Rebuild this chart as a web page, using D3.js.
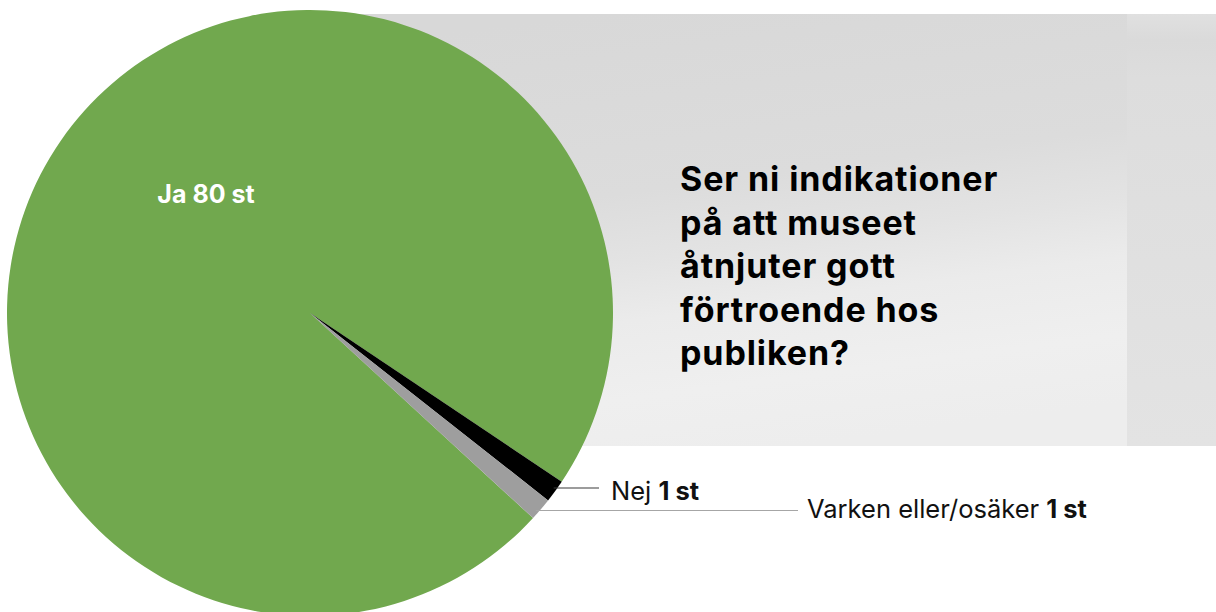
<!DOCTYPE html>
<html><head><meta charset="utf-8">
<script src="https://cdn.jsdelivr.net/npm/d3@7"></script>
<style>html,body{margin:0;padding:0;background:#fff;overflow:hidden}</style>
</head><body>
<svg id="c" width="1216" height="612"></svg>
<script>
const categories = ["Ja", "Nej", "Varken eller/osäker"];
const values = [80, 1, 1];
const unit = "st";
const title = ["Ser ni indikationer", "på att museet", "åtnjuter gott", "förtroende hos", "publiken?"];

const W = 1216, H = 612;
const cx = 310, cy = 313, R = 303;
const svg = d3.select("#c");
const defs = svg.append("defs");

// background panel
const g1 = defs.append("linearGradient").attr("id", "bg1")
  .attr("x1", "0.35").attr("y1", "0").attr("x2", "0.6").attr("y2", "1");
[[0, "#d8d8d8"], [0.4, "#dcdcdc"], [0.55, "#e3e3e3"], [0.68, "#ebebeb"], [0.85, "#efefef"], [1, "#ededed"]]
  .forEach(([o, c]) => g1.append("stop").attr("offset", o).attr("stop-color", c));
const g2 = defs.append("linearGradient").attr("id", "bg2")
  .attr("x1", "0").attr("y1", "0").attr("x2", "0").attr("y2", "1");
[[0, "#e0e0e0"], [0.06, "#dadada"], [0.15, "#dddddd"], [1, "#e3e3e3"]]
  .forEach(([o, c]) => g2.append("stop").attr("offset", o).attr("stop-color", c));

svg.append("rect").attr("x", 300).attr("y", 14).attr("width", 827).attr("height", 432).attr("fill", "url(#bg1)");
svg.append("rect").attr("x", 1127).attr("y", 14).attr("width", W - 1127).attr("height", 432).attr("fill", "url(#bg2)");

// pie
const color = d3.scaleOrdinal().domain(categories).range(["#71a84e", "#000000", "#9e9e9e"]);
const start = 132.6 * Math.PI / 180;
const pie = d3.pie().sort(null).value(d => d.value).startAngle(start).endAngle(start + 2 * Math.PI);
const data = categories.map((c, i) => ({ cat: c, value: values[i] }));
const arcs = pie(data);
const arc = d3.arc().innerRadius(0).outerRadius(R);
const gp = svg.append("g").attr("transform", `translate(${cx},${cy})`);
gp.selectAll("path").data(arcs).join("path")
  .attr("d", arc).attr("fill", d => color(d.data.cat));

// Ja label inside
svg.append("text").attr("x", cx - 104).attr("y", 203).attr("text-anchor", "middle")
  .attr("font-family", "Inter, sans-serif").attr("font-weight", 700).attr("font-size", 25)
  .attr("fill", "#fff").text(`${categories[0]} ${values[0]} ${unit}`);

// outside labels with leader lines
const outer = [
  { i: 1, ly: 488, lx2: 599, tx: 611, ty: 500, stroke: "#3a3a3a" },
  { i: 2, ly: 510.5, lx2: 798, tx: 807, ty: 518, stroke: "#a6a6a6" }
];
outer.forEach(o => {
  const dy = o.ly - cy;
  const x1 = cx + Math.sqrt((R - 3) * (R - 3) - dy * dy);
  svg.append("line").attr("x1", x1).attr("x2", o.lx2).attr("y1", o.ly).attr("y2", o.ly)
    .attr("stroke", o.stroke).attr("stroke-width", 1.2);
  const t = svg.append("text").attr("x", o.tx).attr("y", o.ty)
    .attr("font-family", "Inter, sans-serif").attr("font-size", 25.5).attr("fill", "#111");
  t.append("tspan").text(categories[o.i] + " ");
  t.append("tspan").attr("font-weight", 700).text(`${values[o.i]} ${unit}`);
});

// title
const tt = svg.append("text").attr("x", 680).attr("y", 191)
  .attr("font-family", "Inter, sans-serif").attr("font-weight", 700).attr("font-size", 34)
  .attr("letter-spacing", 0.9).attr("fill", "#000");
title.forEach((l, i) => tt.append("tspan").attr("x", 680).attr("dy", i === 0 ? 0 : 43.5).text(l));
</script>
</body></html>
